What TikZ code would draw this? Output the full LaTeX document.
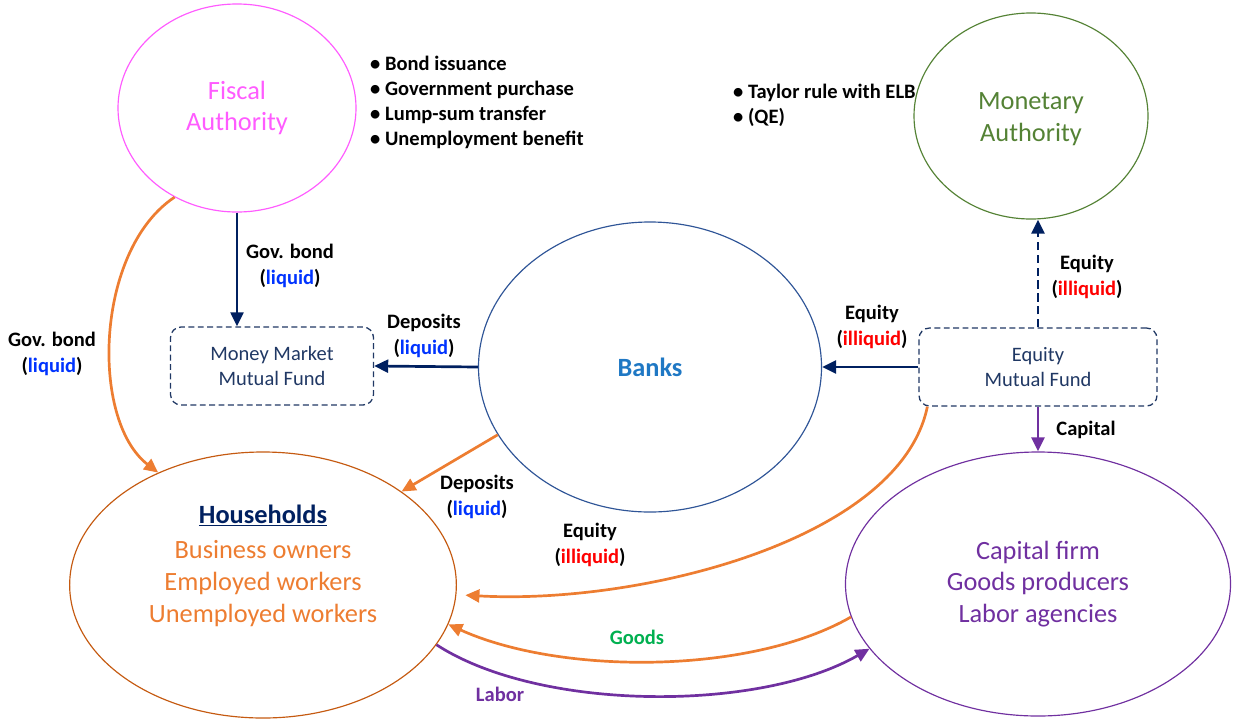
\documentclass[tikz,border=0pt]{standalone}
\usepackage{fontspec}
\setmainfont{Carlito}
\usepackage{tikz}
\usetikzlibrary{arrows.meta,shapes.geometric,positioning}

\definecolor{fiscalpink}{HTML}{FF5BFF}
\definecolor{monetgreen}{HTML}{548235}
\definecolor{bankblue}{HTML}{2F5597}
\definecolor{banktext}{HTML}{1F78C4}
\definecolor{navy}{HTML}{002060}
\definecolor{fundnavy}{HTML}{203864}
\definecolor{hhborder}{HTML}{C55A11}
\definecolor{hhorange}{HTML}{ED7D31}
\definecolor{firmpurple}{HTML}{7030A0}
\definecolor{liqblue}{HTML}{0033FF}
\definecolor{illred}{HTML}{FF0000}
\definecolor{goodsgreen}{HTML}{00B050}

\newcommand{\liq}{(\textcolor{liqblue}{liquid})}
\newcommand{\illiq}{(\textcolor{illred}{illiquid})}

\begin{document}
\begin{tikzpicture}[x=0.03cm,y=-0.03cm,>={Triangle[length=12pt,width=11pt]}]
    \tikzstyle{agent}=[ellipse,draw,line width=1pt,inner sep=0pt,align=center,font=\fontsize{22.5}{27}\selectfont];
    \tikzstyle{fund}=[rectangle,draw=fundnavy,dash pattern=on 5pt off 3pt,line width=1.1pt,rounded corners=9pt,
                      minimum height=2.34cm,align=center,text=fundnavy,font=\fontsize{17.5}{22}\selectfont];
    \tikzstyle{annot}=[align=center,font=\bfseries\fontsize{17.5}{22}\selectfont];
    \tikzstyle{bullets}=[align=left,anchor=west,inner sep=0pt,font=\bfseries\fontsize{17.5}{21.5}\selectfont];
    \tikzstyle{flow}=[->,line width=2.3pt,draw=navy];
    \tikzstyle{orange flow}=[->,line width=2.3pt,draw=hhorange];
    \tikzstyle{purple flow}=[->,line width=2.3pt,draw=firmpurple];

    \useasboundingbox (0,0) rectangle (1233,721);

    % Draw the agents
    \node[agent,draw=fiscalpink,text=fiscalpink,minimum width=7.14cm,minimum height=6.24cm] (FA) at (237,108) {Fiscal\\Authority};
    \node[agent,draw=monetgreen,minimum width=7.02cm,minimum height=6.18cm] (MA) at (1031,116) {};
    \node[align=center,text=monetgreen,font=\fontsize{22.5}{27}\selectfont] (MAtext) at (1031,119) {Monetary\\Authority};
    \node[agent,draw=bankblue,text=banktext,minimum width=10.29cm,minimum height=8.7cm,font=\bfseries\fontsize{22.5}{27}\selectfont] (BK) at (650,367) {Banks};
    \node[agent,draw=hhborder,minimum width=11.6cm,minimum height=7.98cm] (HH) at (263,585) {};
    \node[agent,draw=firmpurple,text=firmpurple,minimum width=11.55cm,minimum height=7.92cm] (FI) at (1038,584) {Capital firm\\Goods producers\\Labor agencies};
    \node[align=center,text=hhorange,font=\fontsize{22.5}{27.5}\selectfont] (HHtext) at (263,566)
        {{\color{navy}\bfseries\underline{Households}}\\[2pt]Business owners\\Employed workers\\Unemployed workers};

    % Draw the funds
    \node[fund,minimum width=6.09cm] (MMF) at (272,366) {Money Market\\Mutual Fund};
    \node[fund,minimum width=7.14cm] (EMF) at (1038,367) {Equity\\Mutual Fund};

    % Policy instruments
    \node[bullets] (FAlist) at (370,102.5) {\textbullet\ Bond issuance\\\textbullet\ Government purchase\\\textbullet\ Lump-sum transfer\\\textbullet\ Unemployment benefit};
    \node[bullets] (MAlist) at (733,105.5) {\textbullet\ Taylor rule with ELB\\\textbullet\ (QE)};

    % Connect the financial flows
    \draw[flow] (FA.south) -- (FA.south |- MMF.north);
    \draw[flow] (BK.west) -- (MMF.east);
    \draw[flow] (EMF.west) -- (BK.east);
    \draw[flow,dash pattern=on 7pt off 4pt] (EMF.north) -- (EMF.north |- MA.south);
    \draw[purple flow] (EMF.south) -- (FI.north);

    % Flows into the households
    \draw[orange flow] (FA.235) .. controls (95,250) and (90,420) .. (HH.133);
    \draw[orange flow] (BK.204) -- (HH.34);
    \draw[orange flow] ([xshift=0.27cm]EMF.south west) .. controls (900,540) and (640,605) .. ([xshift=0.27cm]HH.-3);
    \draw[orange flow] (FI.190) .. controls (750,675) and (560,675) .. (HH.-12);
    \draw[purple flow] (HH.-19) .. controls (540,712) and (760,712) .. (FI.201);

    % Annotate the flows
    \node[annot] (l1) at (290,266) {Gov. bond\\\liq};
    \node[annot] (l2) at (52,354) {Gov. bond\\\liq};
    \node[annot] (l3) at (424,336) {Deposits\\\liq};
    \node[annot] (l4) at (872,327) {Equity\\\illiq};
    \node[annot] (l5) at (1087,277) {Equity\\\illiq};
    \node[annot] (l6) at (1086,430) {Capital};
    \node[annot] (l7) at (477,497) {Deposits\\\liq};
    \node[annot] (l8) at (590,545) {Equity\\\illiq};
    \node[annot,text=goodsgreen] (l9) at (637,637) {Goods};
    \node[annot,text=firmpurple] (l10) at (500,694) {Labor};
\end{tikzpicture}
\end{document}
